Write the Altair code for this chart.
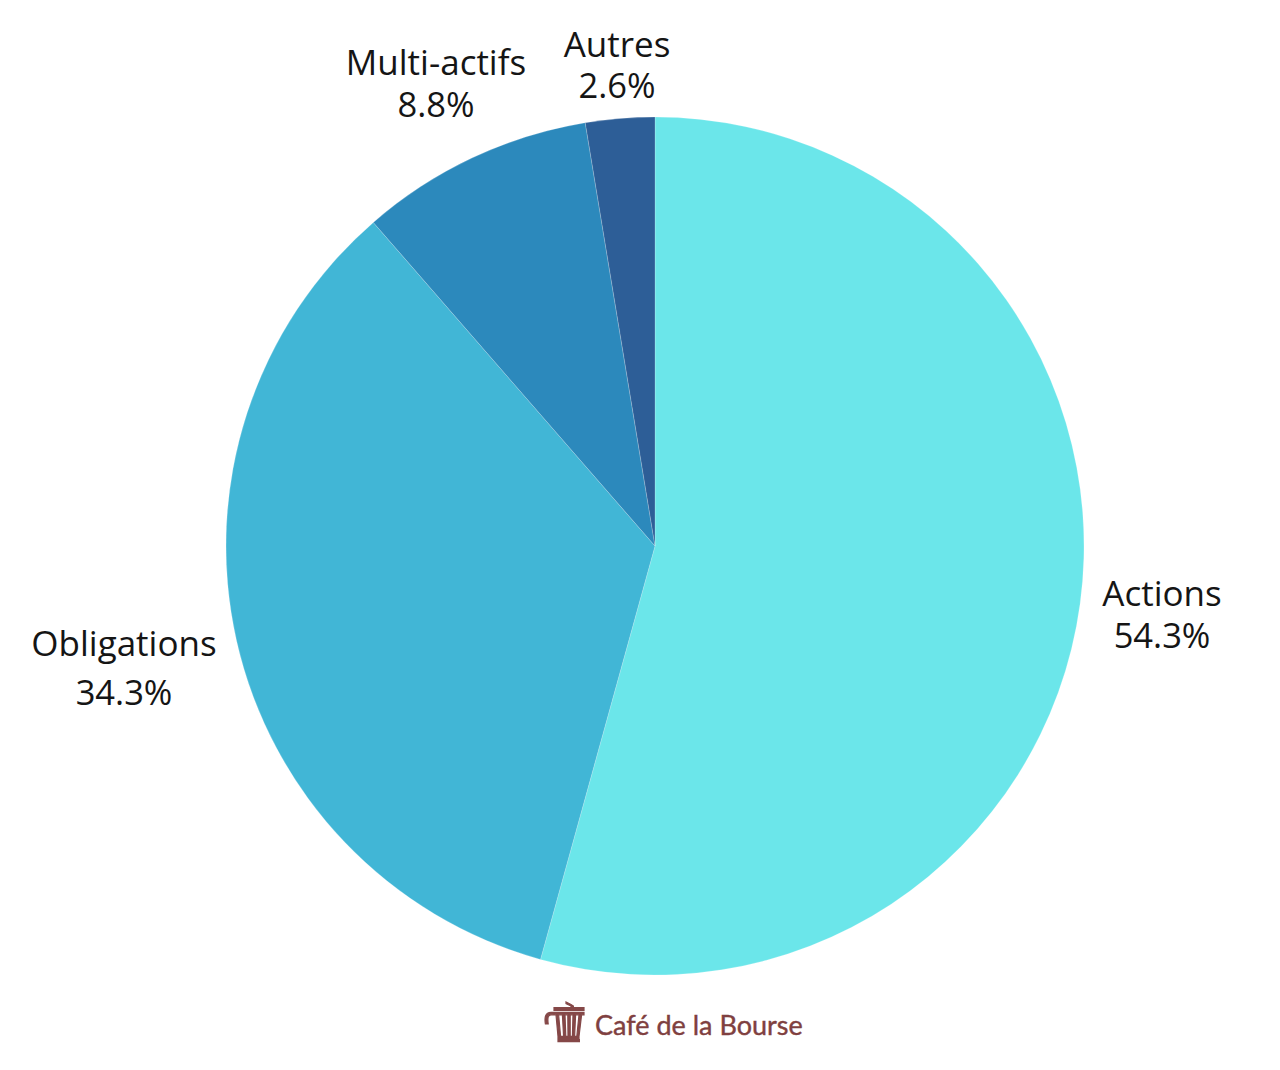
import altair as alt
import pandas as pd

categories = ["Actions", "Obligations", "Multi-actifs", "Autres"]
values = [54.3, 34.3, 8.8, 2.6]
colors = ["#6BE6EA", "#41B6D6", "#2C89BC", "#2D5E97"]
pct_labels = ["54.3%", "34.3%", "8.8%", "2.6%"]
label_x = [1162, 124, 436, 617]
label_name_y = [595, 645, 64, 46]
label_pct_y = [638, 695, 107, 88]
logo_text = ["Café de la Bourse"]

W, H = 1264, 1054
OX, OY = 8, 8

ICON = (
    "M-0.55 -0.72 L0.95 -0.72 L0.95 -0.58 L-0.55 -0.58 Z "
    "M-0.55 -0.48 L0.95 -0.48 L0.95 -0.36 L-0.55 -0.36 Z "
    "M0.05 -0.72 L0.3 -0.72 L0.3 -0.8 L0.05 -0.92 L0.05 -1 L0.3 -0.88 L0.42 -0.8 L0.42 -0.72 Z "
    "M-0.45 -0.36 L-0.32 -0.36 L-0.22 0.72 L-0.35 0.72 Z "
    "M-0.13 -0.36 L0 -0.36 L0.04 0.72 L-0.07 0.72 Z "
    "M0.14 -0.36 L0.26 -0.36 L0.26 0.72 L0.15 0.72 Z "
    "M0.4 -0.36 L0.53 -0.36 L0.48 0.72 L0.37 0.72 Z "
    "M0.7 -0.36 L0.83 -0.36 L0.7 0.72 L0.59 0.72 Z "
    "M-0.35 0.72 L0.7 0.72 L0.7 0.82 L-0.35 0.82 Z "
    "M-0.35 0.88 L0.72 0.88 L0.72 0.98 L-0.35 0.98 Z "
    "M-0.55 -0.48 L-0.55 -0.36 L-0.7 -0.36 C-0.85 -0.36 -0.88 -0.2 -0.84 0.1 L-0.98 0.1 "
    "C-1.03 -0.2 -1 -0.48 -0.7 -0.48 Z"
)

df = pd.DataFrame({"cat": categories, "v": values, "order": list(range(4))})
df["name"] = categories
df["pct"] = pct_labels
df["lx"] = [x - OX for x in label_x]
df["ny"] = [y - OY for y in label_name_y]
df["py"] = [y - OY for y in label_pct_y]

pie = (
    alt.Chart(df)
    .mark_arc(outerRadius=429, stroke="#ffffff", strokeWidth=0.2)
    .encode(
        theta=alt.Theta("v:Q", stack=True, scale=alt.Scale(domain=[0, 100], range=[0, 6.28318530718])),
        order=alt.Order("order:Q"),
        color=alt.Color("cat:N", scale=alt.Scale(domain=categories, range=colors), legend=None),
        x=alt.value(655 - OX),
        y=alt.value(546 - OY),
    )
)

xs = alt.X("lx:Q", scale=None, axis=None)
names = alt.Chart(df).mark_text(font="Open Sans", fontSize=35, color="#151515", align="center", baseline="middle").encode(
    x=xs, y=alt.Y("ny:Q", scale=None, axis=None), text="name:N")
pcts = alt.Chart(df).mark_text(font="Open Sans", fontSize=34.5, color="#151515", align="center", baseline="middle").encode(
    x=xs, y=alt.Y("py:Q", scale=None, axis=None), text="pct:N")

logo_df = pd.DataFrame({"t": logo_text})
logo = alt.Chart(logo_df).mark_text(font="Lato", fontSize=27, color="#7F4040", stroke="#7F4040", strokeWidth=0.4, align="left", baseline="middle").encode(
    x=alt.value(595 - OX), y=alt.value(1027 - OY), text="t:N")
icon = alt.Chart(logo_df).mark_point(shape=ICON, filled=True, color="#7F3F3F", stroke="#7F3F3F", strokeWidth=1.2, opacity=0.95, size=1600).encode(
    x=alt.value(565 - OX), y=alt.value(1022 - OY))

chart = (pie + names + pcts + logo + icon).properties(
    width=W, height=H, padding=0, autosize=alt.AutoSizeParams(type="none")
).configure_view(stroke=None)

chart.save("out.html", embed_options={"renderer": "svg", "actions": False})
